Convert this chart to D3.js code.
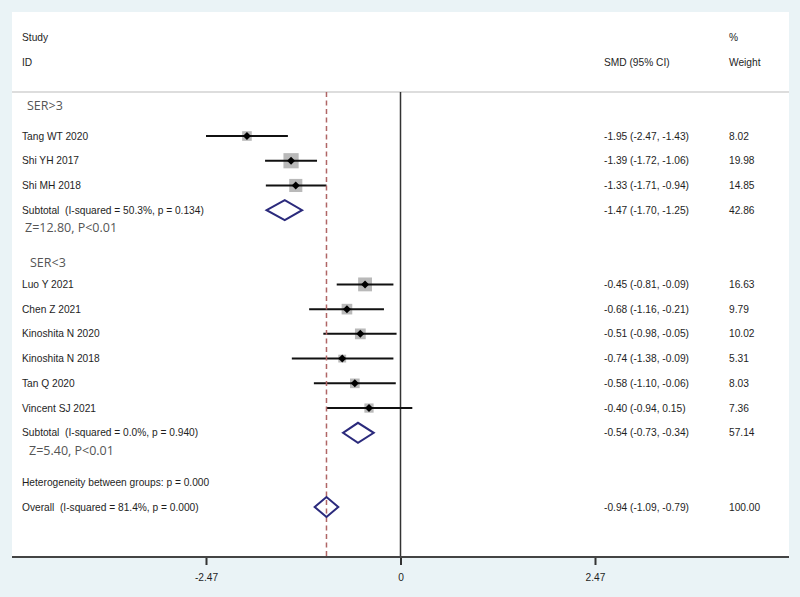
<!DOCTYPE html>
<html>
<head>
<meta charset="utf-8">
<script src="https://cdn.jsdelivr.net/npm/d3@7/dist/d3.min.js"></script>
<style>
html,body{margin:0;padding:0;background:#eaf3f6;}
svg{display:block;}
text{white-space:pre;}
</style>
</head>
<body>
<svg id="chart" width="800" height="597"></svg>
<script>
// ---- data ----
const studies = ["Tang WT 2020","Shi YH 2017","Shi MH 2018","Luo Y 2021","Chen Z 2021","Kinoshita N 2020","Kinoshita N 2018","Tan Q 2020","Vincent SJ 2021"];
const studyRows = [0,1,2,6,7,8,9,10,11];
const smd   = [-1.95,-1.39,-1.33,-0.45,-0.68,-0.51,-0.74,-0.58,-0.40];
const lower = [-2.47,-1.72,-1.71,-0.81,-1.16,-0.98,-1.38,-1.10,-0.94];
const upper = [-1.43,-1.06,-0.94,-0.09,-0.21,-0.05,-0.09,-0.06,0.15];
const weights = ["8.02","19.98","14.85","16.63","9.79","10.02","5.31","8.03","7.36"];

const pooledLabels = ["Subtotal  (I-squared = 50.3%, p = 0.134)","Subtotal  (I-squared = 0.0%, p = 0.940)","Overall  (I-squared = 81.4%, p = 0.000)"];
const pooledRows = [3,12,15];
const pooledEst = [-1.47,-0.54,-0.94];
const pooledLo  = [-1.70,-0.73,-1.09];
const pooledHi  = [-1.25,-0.34,-0.79];
const pooledW   = ["42.86","57.14","100.00"];

const groupLabels = ["SER>3","SER<3"];
const groupRows = [-1.22,5.1];
const zLabels = ["Z=12.80, P<0.01","Z=5.40, P<0.01"];
const zRows = [3.7,12.72];
const hetLabel = "Heterogeneity between groups: p = 0.000";
const hetRow = 14;

const tickValues = [-2.47,0,2.47];
const tickLabels = ["-2.47","0","2.47"];

// ---- layout ----
const svg = d3.select("#chart");
const panel = {x:12,y:12,w:777,h:545};
const x = d3.scaleLinear().domain([-2.47,2.47]).range([206,595]);
const y = d3.scaleLinear().domain([0,15]).range([136,507]);
const fontA = "Liberation Sans, Arial, sans-serif";
const fontB = "Open Sans, Lato, sans-serif";
const fmt = d3.formatLocale({decimal:".",thousands:",",grouping:[3],currency:["",""],minus:"-"}).format(".2f");
const ciText = (e,l,h)=> `${fmt(e)} (${fmt(l)}, ${fmt(h)})`;
const colText = 604, colW = 729, colLabel = 22;
const fs = 10.2, tcol = "#1e1e1e";

svg.append("rect").attr("x",panel.x).attr("y",panel.y).attr("width",panel.w).attr("height",panel.h).attr("fill","#ffffff");

function txt(g, xx, yy, s){
  return g.append("text").attr("x",xx).attr("y",yy).attr("dy","0.35em")
    .attr("font-family",fontA).attr("font-size",fs).attr("fill",tcol).attr("xml:space","preserve").text(s);
}

// headers
const hdr = svg.append("g");
txt(hdr,colLabel,37,"Study");
txt(hdr,colLabel,62,"ID");
txt(hdr,colText,62,"SMD (95% CI)");
txt(hdr,colW,37,"%");
txt(hdr,colW,62,"Weight");

// separator
svg.append("line").attr("x1",panel.x).attr("x2",panel.x+panel.w).attr("y1",92).attr("y2",92)
  .attr("stroke","#bcbcbc").attr("stroke-width",1.2);

// reference lines
const plotTop = 92, plotBot = panel.y+panel.h;
svg.append("line").attr("x1",x(0)).attr("x2",x(0)).attr("y1",plotTop).attr("y2",plotBot)
  .attr("stroke","#333").attr("stroke-width",1.5);

// study rows
const sg = svg.append("g");
studies.forEach((s,i)=>{
  const yy = y(studyRows[i]);
  const side = 3.4*Math.sqrt(+weights[i]);
  sg.append("rect").attr("x",x(smd[i])-side/2).attr("y",yy-side/2).attr("width",side).attr("height",side).attr("fill","#b9b9b9");
  sg.append("line").attr("x1",x(lower[i])).attr("x2",x(upper[i])).attr("y1",yy).attr("y2",yy).attr("stroke","#111").attr("stroke-width",2);
  const m = 4;
  const cx = x(smd[i]);
  sg.append("path").attr("d",`M${cx-m},${yy}L${cx},${yy-m}L${cx+m},${yy}L${cx},${yy+m}Z`).attr("fill","#000");
  txt(sg,colLabel,yy,s);
  txt(sg,colText,yy,ciText(smd[i],lower[i],upper[i]));
  txt(sg,colW,yy,weights[i]);
});

// dashed overall line
svg.append("line").attr("x1",x(pooledEst[2])).attr("x2",x(pooledEst[2])).attr("y1",plotTop).attr("y2",plotBot)
  .attr("stroke","#b06666").attr("stroke-width",1.5).attr("stroke-dasharray","5,3.5");

// pooled rows
const pg = svg.append("g");
pooledLabels.forEach((s,i)=>{
  const yy = y(pooledRows[i]);
  const h = 10;
  pg.append("path").attr("d",`M${x(pooledLo[i])},${yy}L${x(pooledEst[i])},${yy-h}L${x(pooledHi[i])},${yy}L${x(pooledEst[i])},${yy+h}Z`)
    .attr("fill","none").attr("stroke","#2b2a7c").attr("stroke-width",2).attr("stroke-linejoin","miter");
  txt(pg,colLabel,yy,s);
  txt(pg,colText,yy,ciText(pooledEst[i],pooledLo[i],pooledHi[i]));
  txt(pg,colW,yy,pooledW[i]);
});

// heterogeneity
txt(svg,colLabel,y(hetRow),hetLabel);

// group labels & z labels
groupLabels.forEach((g,i)=>{
  svg.append("text").attr("x",[27,30][i]).attr("y",y(groupRows[i])).attr("dy","0.35em").attr("font-family",fontB).attr("font-size",12.5).attr("fill","#555").text(g);
});
zLabels.forEach((z,i)=>{
  svg.append("text").attr("x",[25,29][i]).attr("y",y(zRows[i])).attr("dy","0.35em").attr("font-family",fontB).attr("font-size",12.5).attr("fill","#555").text(z);
});

// axis
const axis = d3.axisBottom(x).tickValues(tickValues).tickFormat((d,i)=>tickLabels[i]).tickSize(8).tickSizeOuter(0);
const ax = svg.append("g").attr("transform",`translate(0,${plotBot})`).call(axis);
ax.select(".domain").remove();
ax.selectAll(".tick line").attr("stroke","#333").attr("stroke-width",2);
ax.selectAll(".tick text").attr("font-family",fontA).attr("font-size",fs).attr("fill",tcol).attr("dy","1.25em");
svg.append("line").attr("x1",panel.x).attr("x2",panel.x+panel.w).attr("y1",plotBot).attr("y2",plotBot).attr("stroke","#444").attr("stroke-width",2);
</script>
</body>
</html>
